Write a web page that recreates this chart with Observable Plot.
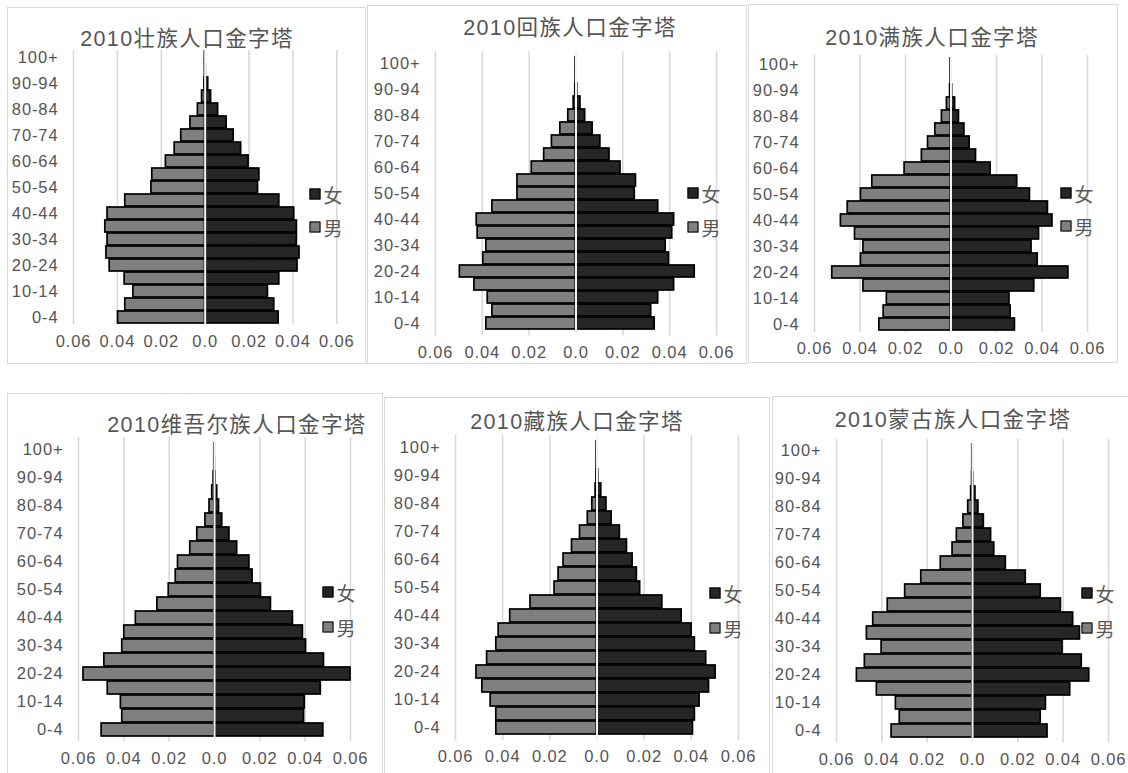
<!DOCTYPE html>
<html>
<head>
<meta charset="utf-8">
<script src="https://cdn.jsdelivr.net/npm/d3@7"></script>
<script src="https://cdn.jsdelivr.net/npm/@observablehq/plot@0.6"></script>
<style>
  html, body { margin: 0; padding: 0; background: #fff; }
  body { width: 1128px; height: 773px; position: relative; overflow: hidden;
         font-family: "Liberation Sans", "Noto Sans CJK SC", sans-serif; color: #595959; }
  .box { position: absolute; border: 1.5px solid #d9d9d9; box-sizing: border-box; }
  .title { position: absolute; transform: translate(-50%, -50%); white-space: nowrap;
           font-size: 21.5px; letter-spacing: 1.4px; color: #555; }
  .leg { position: absolute; display: flex; align-items: center; transform: translate(-50%, -50%);
         font-size: 19px; color: #595959; white-space: nowrap; }
  .sw { width: 9px; height: 9px; border: 1.6px solid #000; margin-right: 3px; }
  .plot { position: absolute; }
</style>
</head>
<body>
<script>
// ---------- data ----------
const ages = ["0-4","5-9","10-14","15-19","20-24","25-29","30-34","35-39","40-44","45-49",
              "50-54","55-59","60-64","65-69","70-74","75-79","80-84","85-89","90-94","95-99","100+"];
const ageTicks = ["0-4","10-14","20-24","30-34","40-44","50-54","60-64","70-74","80-84","90-94","100+"];
const xTicks = [-0.06, -0.04, -0.02, 0, 0.02, 0.04, 0.06];
const titles = ["2010壮族人口金字塔","2010回族人口金字塔","2010满族人口金字塔",
                "2010维吾尔族人口金字塔","2010藏族人口金字塔","2010蒙古族人口金字塔"];
const seriesNames = ["女", "男"];

const zhuangMale   = [0.0397,0.0364,0.0327,0.0367,0.0435,0.0450,0.0445,0.0455,0.0445,0.0364,0.0245,0.0241,0.0179,0.0139,0.0109,0.0067,0.0033,0.0014,0.0003,0.0001,0.0001];
const zhuangFemale = [0.0335,0.0315,0.0286,0.0338,0.0421,0.0430,0.0418,0.0418,0.0406,0.0338,0.0241,0.0247,0.0198,0.0164,0.0130,0.0098,0.0059,0.0027,0.0014,0.0003,0.0001];
const huiMale      = [0.0383,0.0357,0.0377,0.0434,0.0496,0.0396,0.0383,0.0420,0.0424,0.0357,0.0250,0.0250,0.0189,0.0136,0.0103,0.0067,0.0033,0.0010,0.0003,0.0001,0.0001];
const huiFemale    = [0.0336,0.0321,0.0351,0.0419,0.0507,0.0397,0.0383,0.0411,0.0419,0.0351,0.0251,0.0256,0.0190,0.0143,0.0104,0.0071,0.0039,0.0019,0.0005,0.0002,0.0001];
const manMale      = [0.0315,0.0296,0.0282,0.0385,0.0522,0.0396,0.0385,0.0422,0.0484,0.0454,0.0396,0.0346,0.0204,0.0128,0.0101,0.0069,0.0040,0.0018,0.0004,0.0001,0.0001];
const manFemale    = [0.0281,0.0262,0.0257,0.0366,0.0516,0.0381,0.0354,0.0387,0.0446,0.0426,0.0347,0.0291,0.0174,0.0110,0.0082,0.0059,0.0035,0.0018,0.0005,0.0002,0.0001];
const uyghurMale   = [0.0498,0.0407,0.0413,0.0471,0.0578,0.0486,0.0407,0.0398,0.0347,0.0252,0.0202,0.0171,0.0161,0.0107,0.0076,0.0040,0.0022,0.0010,0.0004,0.0001,0.0001];
const uyghurFemale = [0.0480,0.0395,0.0398,0.0469,0.0600,0.0483,0.0404,0.0390,0.0346,0.0249,0.0205,0.0168,0.0154,0.0100,0.0066,0.0034,0.0020,0.0012,0.0005,0.0002,0.0001];
const tibetMale    = [0.0427,0.0427,0.0451,0.0486,0.0511,0.0466,0.0427,0.0417,0.0368,0.0282,0.0180,0.0163,0.0142,0.0106,0.0072,0.0039,0.0020,0.0006,0.0002,0.0001,0.0001];
const tibetFemale  = [0.0407,0.0415,0.0435,0.0475,0.0503,0.0463,0.0415,0.0401,0.0359,0.0277,0.0183,0.0169,0.0151,0.0127,0.0097,0.0062,0.0040,0.0018,0.0005,0.0002,0.0001];
const mongolMale   = [0.0357,0.0321,0.0338,0.0422,0.0510,0.0475,0.0401,0.0466,0.0438,0.0374,0.0297,0.0226,0.0140,0.0088,0.0069,0.0040,0.0019,0.0006,0.0002,0.0001,0.0001];
const mongolFemale = [0.0331,0.0301,0.0324,0.0431,0.0515,0.0482,0.0397,0.0474,0.0444,0.0390,0.0301,0.0235,0.0147,0.0096,0.0082,0.0050,0.0026,0.0013,0.0004,0.0001,0.0001];

const maleSeries   = [zhuangMale, huiMale, manMale, uyghurMale, tibetMale, mongolMale];
const femaleSeries = [zhuangFemale, huiFemale, manFemale, uyghurFemale, tibetFemale, mongolFemale];

// ---------- layout (page pixels) ----------
const layout = [
  {box:[7,7,359,357],    plot:[72.7,336,49.5,323.8],  title:[187,36],  leg:[316,194,227]},
  {box:[367,5,380,359],  plot:[435,716,50.5,335.1],   title:[570,25],  leg:[694,193,227]},
  {box:[748,4,370,359],  plot:[814,1087,55.1,332.3],  title:[932,35],  leg:[1067,193,226]},
  {box:[7,393,376,400],  plot:[78,350,437,741.6],     title:[237,422], leg:[329,592,627]},
  {box:[384,397,386,400],plot:[455,738,435.4,740.6],  title:[577,419], leg:[716,593,628]},
  {box:[772,396,370,400],plot:[836,1108,438.8,742.2], title:[953,417], leg:[1088,593,628]}
];

const FEMALE = "#262626", MALE = "#7f7f7f";

function el(tag, cls, css, html) {
  const e = document.createElement(tag);
  if (cls) e.className = cls;
  Object.assign(e.style, css || {});
  if (html != null) e.innerHTML = html;
  document.body.appendChild(e);
  return e;
}

layout.forEach((L, i) => {
  const [bx, by, bw, bh] = L.box;
  el("div", "box", {left: bx + "px", top: by + "px", width: bw + "px", height: bh + "px"});

  const rows = ages.map((a, k) => ({age: a, male: maleSeries[i][k], female: femaleSeries[i][k]}));
  const [pl, pr, pt, pb] = L.plot;
  const mL = 75, mR = 28, mT = 4, mB = 34;
  const width = (pr - pl) + mL + mR;
  const height = (pb - pt) + mT + mB;

  const chart = Plot.plot({
    width, height,
    marginLeft: mL, marginRight: mR, marginTop: mT, marginBottom: mB,
    style: {fontSize: "16.5px", fontFamily: "'Liberation Sans', 'Noto Sans CJK SC', sans-serif",
            letterSpacing: "0.9px", color: "#555", background: "transparent", overflow: "visible"},
    x: {domain: [-0.06, 0.06], axis: null},
    y: {domain: ages.slice().reverse(), padding: 0.07, axis: null},
    marks: [
      Plot.ruleX(xTicks.filter(d => d !== 0), {stroke: "#d9d9d9", strokeWidth: 1.6}),
      Plot.barX(rows, {y: "age", x1: d => -d.male, x2: 0, fill: MALE, stroke: "#000", strokeWidth: 1.7}),
      Plot.barX(rows, {y: "age", x1: 0, x2: d => d.female, fill: FEMALE, stroke: "#000", strokeWidth: 1.7}),
      Plot.ruleX([0], {stroke: "#f2f2f2", strokeWidth: 2}),
      Plot.axisY(ageTicks, {tickSize: 0, tickPadding: 15, fill: "#555", label: null}),
      Plot.axisX(xTicks, {tickSize: 0, tickPadding: 10, fill: "#555", label: null,
                          tickFormat: d => d === 0 ? "0.0" : Math.abs(d).toFixed(2)})
    ]
  });
  chart.classList.add("plot");
  chart.style.left = (pl - mL) + "px";
  chart.style.top = (pt - mT) + "px";
  document.body.appendChild(chart);

  el("div", "title", {left: L.title[0] + "px", top: L.title[1] + "px"}, titles[i]);

  const [lx, ly1, ly2] = L.leg;
  [[seriesNames[0], FEMALE, ly1], [seriesNames[1], MALE, ly2]].forEach(([name, color, ly]) => {
    const g = el("div", "leg", {left: (lx + 10) + "px", top: ly + "px"});
    const s = document.createElement("div");
    s.className = "sw"; s.style.background = color;
    const t = document.createElement("span"); t.textContent = name;
    g.appendChild(s); g.appendChild(t);
  });
});
</script>
</body>
</html>
